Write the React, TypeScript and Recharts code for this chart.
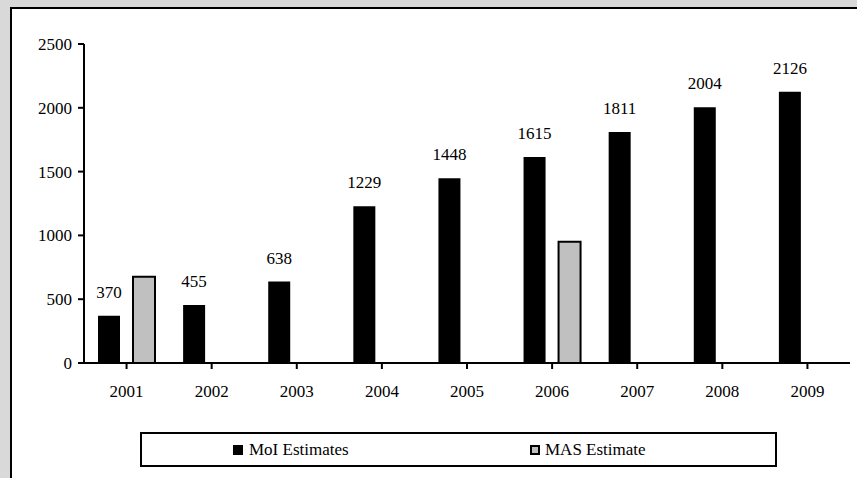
import React from "react";
import { BarChart, Bar, XAxis, YAxis, LabelList } from "recharts";

const years = ["2001", "2002", "2003", "2004", "2005", "2006", "2007", "2008", "2009"];
const moiEstimates = [370, 455, 638, 1229, 1448, 1615, 1811, 2004, 2126];
const masEstimate: (number | null)[] = [675, null, null, null, null, 950, null, null, null];
const yTicks = [0, 500, 1000, 1500, 2000, 2500];

const data = years.map((y, i) => ({ year: y, moi: moiEstimates[i], mas: masEstimate[i] }));

const FONT = "Liberation Serif, Tinos, Times New Roman, DejaVu Serif, serif";

const LegendBox = () => (
  <div
    style={{
      position: "absolute",
      left: 140,
      top: 432,
      width: 637,
      height: 35,
      border: "2px solid #000",
      boxSizing: "border-box",
      background: "#fff",
      fontFamily: FONT,
      fontSize: 17,
      color: "#000",
    }}
  >
    <div style={{ position: "absolute", left: 91, top: 7, display: "flex", alignItems: "center" }}>
      <span style={{ display: "inline-block", width: 10, height: 10, background: "#000", marginRight: 6 }} />
      <span style={{ lineHeight: "17px" }}>MoI Estimates</span>
    </div>
    <div style={{ position: "absolute", left: 388, top: 7, display: "flex", alignItems: "center" }}>
      <span
        style={{
          display: "inline-block",
          width: 10,
          height: 10,
          background: "#c0c0c0",
          border: "2px solid #000",
          boxSizing: "border-box",
          marginRight: 5,
        }}
      />
      <span style={{ lineHeight: "17px" }}>MAS Estimate</span>
    </div>
  </div>
);

export default function App() {
  return (
    <div
      style={{
        position: "absolute",
        left: 0,
        top: 0,
        width: 857,
        height: 478,
        background: "#d9d9d9",
        overflow: "hidden",
        fontFamily: FONT,
      }}
    >
      <div
        style={{
          position: "absolute",
          left: 10,
          top: 7,
          width: 900,
          height: 520,
          borderLeft: "2px solid #000",
          borderTop: "2px solid #000",
          background: "#fff",
        }}
      />
      <div style={{ position: "absolute", left: 0, top: 0 }}>
        <BarChart
          width={857}
          height={478}
          data={data}
          margin={{ top: 44, right: 7, left: 24, bottom: 85 }}
          barSize={22}
          barGap={13}
        >
          <XAxis
            dataKey="year"
            axisLine={{ stroke: "#000", strokeWidth: 2 }}
            tickLine={{ stroke: "#000", strokeWidth: 2 }}
            tickSize={6}
            tickMargin={16}
            height={30}
            tick={{ fill: "#000", fontFamily: FONT, fontSize: 17 }}
            interval={0}
          />
          <YAxis
            domain={[0, 2500]}
            ticks={yTicks}
            width={60}
            axisLine={{ stroke: "#000", strokeWidth: 2 }}
            tickLine={{ stroke: "#000", strokeWidth: 2 }}
            tickSize={6}
            tickMargin={6}
            tick={{ fill: "#000", fontFamily: FONT, fontSize: 17 }}
            allowDataOverflow
          />
          <Bar dataKey="moi" name="MoI Estimates" fill="#000" isAnimationActive={false}>
            <LabelList
              dataKey="moi"
              position="top"
              offset={18}
              style={{ fill: "#000", fontFamily: FONT, fontSize: 17 }}
            />
          </Bar>
          <Bar
            dataKey="mas"
            name="MAS Estimate"
            fill="#c0c0c0"
            stroke="#000"
            strokeWidth={2}
            isAnimationActive={false}
          />
        </BarChart>
      </div>
      <LegendBox />
    </div>
  );
}
